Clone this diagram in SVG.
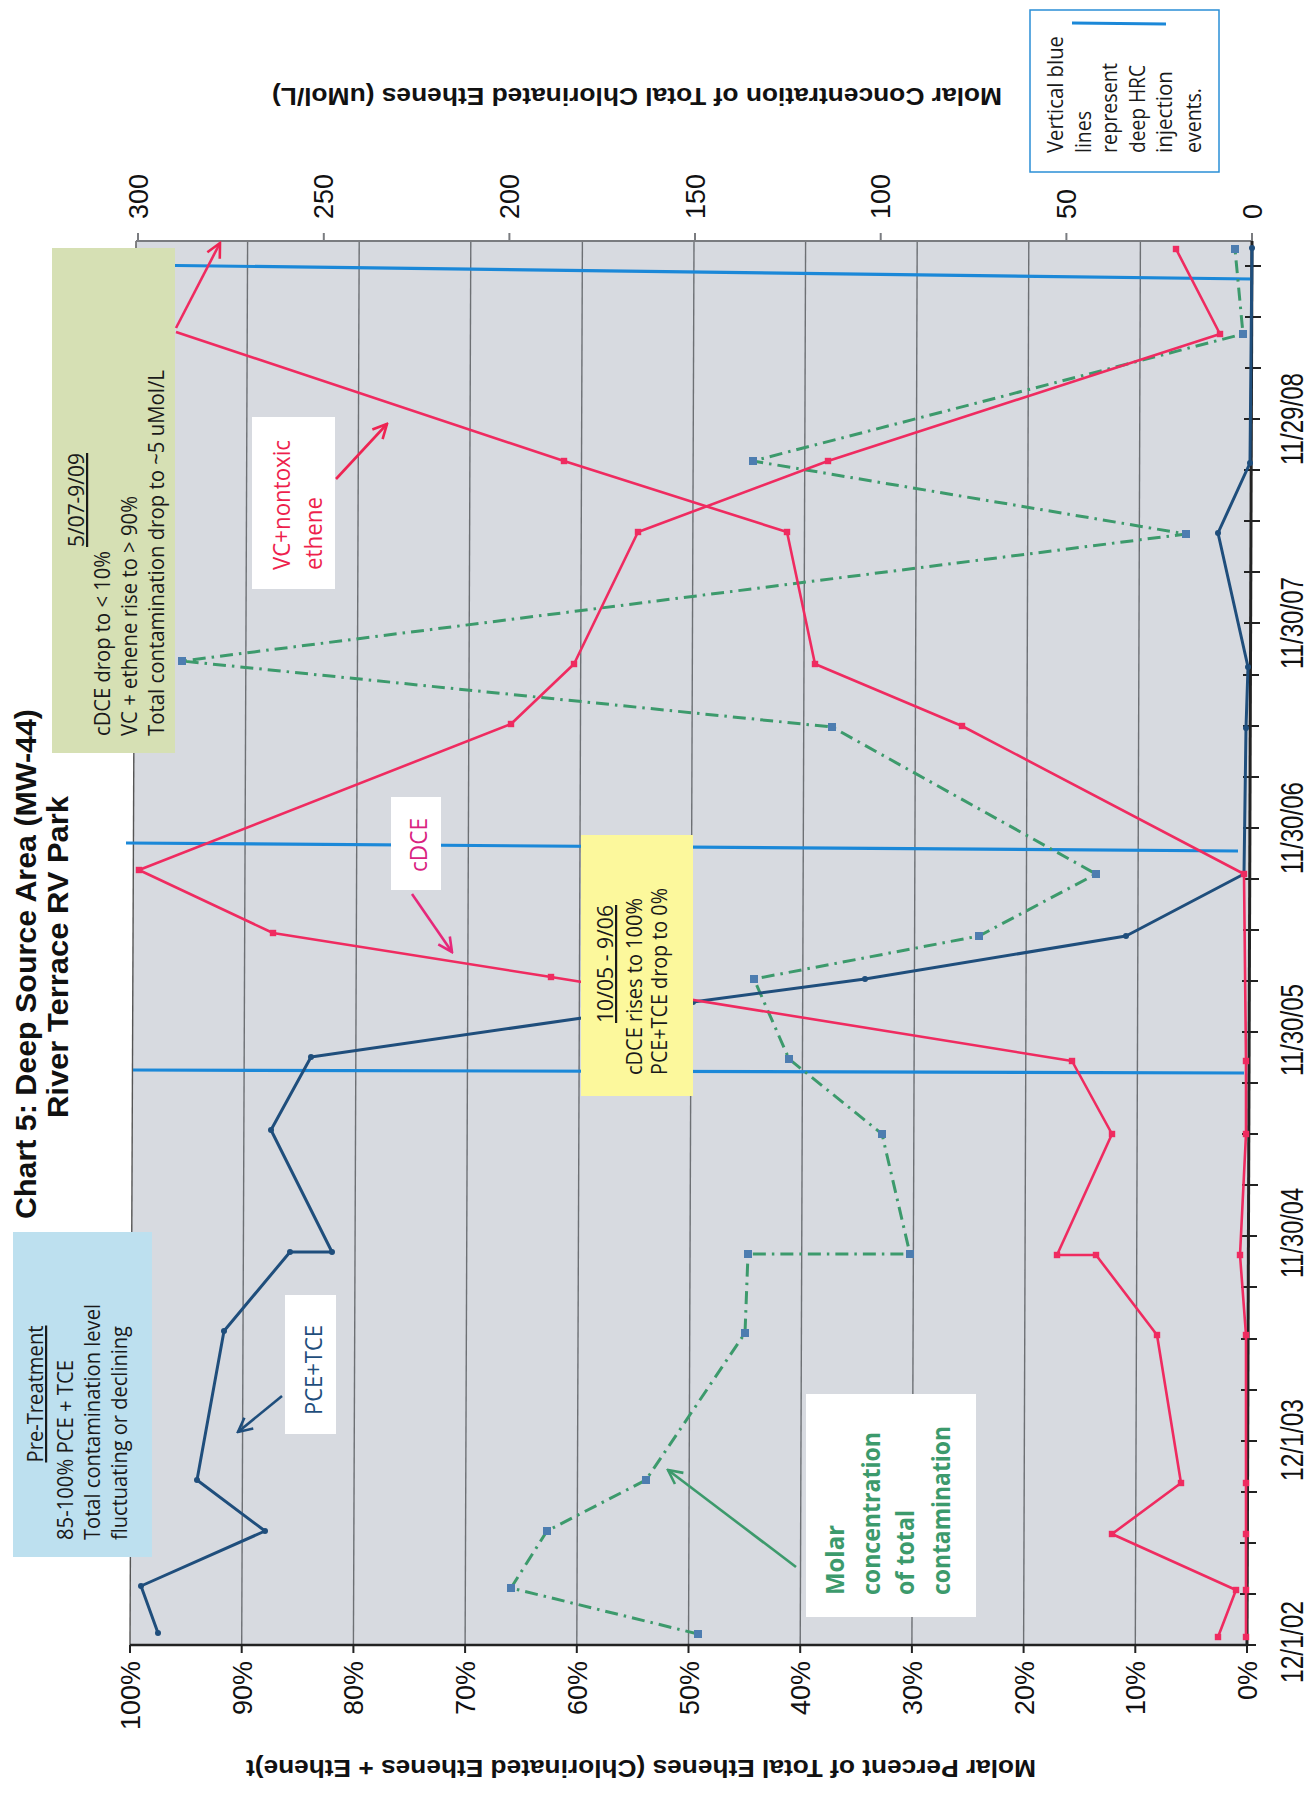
<svg xmlns="http://www.w3.org/2000/svg" width="1315" height="1796" viewBox="0 0 1315 1796">
<defs>
<style>
.ax{font-family:"Liberation Sans",Arial,sans-serif;fill:#111}
.num{font-size:27px}
.dt{font-size:32px}
.ttl{font-family:"Liberation Sans",Arial,sans-serif;font-weight:bold;fill:#111}
.cal{font-family:"Open Sans","Noto Sans",sans-serif;font-size:22px;fill:#1a1a1a}
.lab{font-family:"Open Sans","Noto Sans",sans-serif;font-size:24px}
.grid{stroke:#6d7074;stroke-width:1.4;fill:none}
.inj{stroke:#1b88d8;stroke-width:3.2;fill:none}
.pce{stroke:#1f4e7c;stroke-width:3;fill:none;stroke-linejoin:round}
.pink{stroke:#ef2b60;stroke-width:2.6;fill:none;stroke-linejoin:round}
.grn{stroke:#3c9a6c;stroke-width:3;fill:none;stroke-dasharray:13 6 2.5 6}
.arr{fill:none;stroke-width:2.6}
</style>
<marker id="mb" viewBox="-4 -4 8 8" markerWidth="8" markerHeight="8" markerUnits="userSpaceOnUse"><circle r="3" fill="#1f4e7c"/></marker>
<marker id="mp" viewBox="-4 -4 8 8" markerWidth="8" markerHeight="8" markerUnits="userSpaceOnUse"><rect x="-3.2" y="-3.2" width="6.4" height="6.4" fill="#ef2b60"/></marker>
<marker id="mg" viewBox="-5 -5 10 10" markerWidth="10" markerHeight="10" markerUnits="userSpaceOnUse"><rect x="-4" y="-4" width="8" height="8" fill="#4d7db0"/></marker>
<marker id="ab" viewBox="-16 -9 18 18" markerWidth="18" markerHeight="18" markerUnits="userSpaceOnUse" orient="auto"><path d="M-14,-7 L0,0 L-14,7" fill="none" stroke="#1f4e7c" stroke-width="2.6"/></marker>
<marker id="am" viewBox="-16 -9 18 18" markerWidth="18" markerHeight="18" markerUnits="userSpaceOnUse" orient="auto"><path d="M-14,-7 L0,0 L-14,7" fill="none" stroke="#e6287a" stroke-width="2.6"/></marker>
<marker id="ar" viewBox="-16 -9 18 18" markerWidth="18" markerHeight="18" markerUnits="userSpaceOnUse" orient="auto"><path d="M-14,-7 L0,0 L-14,7" fill="none" stroke="#ee2452" stroke-width="2.6"/></marker>
<marker id="ag" viewBox="-16 -9 18 18" markerWidth="18" markerHeight="18" markerUnits="userSpaceOnUse" orient="auto"><path d="M-14,-7 L0,0 L-14,7" fill="none" stroke="#3c9a6c" stroke-width="2.6"/></marker>
</defs>
<rect width="1315" height="1796" fill="#ffffff"/>

<g id="plot">
<polygon points="136,241 1252,241 1247,1645 130,1645" fill="#d7dae0"/>
<g class="grid">
<line x1="1140.4" y1="241" x2="1135.3" y2="1645"/>
<line x1="1028.8" y1="241" x2="1023.6" y2="1645"/>
<line x1="917.2" y1="241" x2="911.9" y2="1645"/>
<line x1="805.6" y1="241" x2="800.2" y2="1645"/>
<line x1="694" y1="241" x2="688.5" y2="1645"/>
<line x1="582.4" y1="241" x2="576.8" y2="1645"/>
<line x1="470.8" y1="241" x2="465.1" y2="1645"/>
<line x1="359.2" y1="241" x2="353.4" y2="1645"/>
<line x1="247.6" y1="241" x2="241.7" y2="1645"/>
<line x1="136" y1="241" x2="130" y2="1645" stroke="#555"/>
</g>
<line x1="136" y1="241" x2="1252" y2="241" stroke="#7a7c80" stroke-width="2.2"/>
<path d="M138,233v8 M323.8,233v8 M509.4,233v8 M695,233v8 M880.7,233v8 M1066.4,233v8 M1252,233v8" stroke="#7a7c80" stroke-width="2"/>
<line x1="130" y1="1645" x2="1248" y2="1645" stroke="#222" stroke-width="2.6"/>
<path d="M130,1645v8 M241.7,1645v8 M353.4,1645v8 M465.1,1645v8 M576.8,1645v8 M688.5,1645v8 M800.2,1645v8 M911.9,1645v8 M1023.6,1645v8 M1135.3,1645v8 M1247,1645v8" stroke="#222" stroke-width="2"/>
<line x1="1252" y1="241" x2="1247" y2="1646" stroke="#222" stroke-width="3"/>
<path d="M1240,1645h16 M1240,1594h16 M1240,1543h16 M1241,1492h16 M1241,1441h16 M1241,1390h16 M1241,1339h16 M1241,1287h16 M1241,1236h16 M1242,1185h16 M1242,1134h16 M1242,1083h16 M1242,1032h16 M1242,981h16 M1243,930h16 M1243,879h16 M1243,828h16 M1243,777h16 M1243,726h16 M1243,675h16 M1244,623h16 M1244,572h16 M1244,521h16 M1244,470h16 M1244,419h16 M1245,368h16 M1245,317h16 M1245,266h16" stroke="#222" stroke-width="2"/>
</g>

<g id="axis-labels" class="ax">
<g class="num" text-anchor="end">
<text x="140" y="1661" transform="rotate(-90 140 1661)">100%</text>
<text x="251.7" y="1661" transform="rotate(-90 251.7 1661)">90%</text>
<text x="363.4" y="1661" transform="rotate(-90 363.4 1661)">80%</text>
<text x="475.1" y="1661" transform="rotate(-90 475.1 1661)">70%</text>
<text x="586.8" y="1661" transform="rotate(-90 586.8 1661)">60%</text>
<text x="698.5" y="1661" transform="rotate(-90 698.5 1661)">50%</text>
<text x="810.2" y="1661" transform="rotate(-90 810.2 1661)">40%</text>
<text x="921.9" y="1661" transform="rotate(-90 921.9 1661)">30%</text>
<text x="1033.6" y="1661" transform="rotate(-90 1033.6 1661)">20%</text>
<text x="1145.3" y="1661" transform="rotate(-90 1145.3 1661)">10%</text>
<text x="1257" y="1661" transform="rotate(-90 1257 1661)">0%</text>
</g>
<g class="num" text-anchor="start">
<text x="147.5" y="219" transform="rotate(-90 147.5 219)">300</text>
<text x="333.3" y="219" transform="rotate(-90 333.3 219)">250</text>
<text x="518.9" y="219" transform="rotate(-90 518.9 219)">200</text>
<text x="704.5" y="219" transform="rotate(-90 704.5 219)">150</text>
<text x="890.2" y="219" transform="rotate(-90 890.2 219)">100</text>
<text x="1075.9" y="219" transform="rotate(-90 1075.9 219)">50</text>
<text x="1261.5" y="219" transform="rotate(-90 1261.5 219)">0</text>
</g>
<g class="dt" text-anchor="middle">
<text x="1303" y="1642" transform="rotate(-90 1303 1642)" textLength="82" lengthAdjust="spacingAndGlyphs">12/1/02</text>
<text x="1303" y="1440" transform="rotate(-90 1303 1440)" textLength="82" lengthAdjust="spacingAndGlyphs">12/1/03</text>
<text x="1303" y="1233" transform="rotate(-90 1303 1233)" textLength="90" lengthAdjust="spacingAndGlyphs">11/30/04</text>
<text x="1303" y="1030" transform="rotate(-90 1303 1030)" textLength="92" lengthAdjust="spacingAndGlyphs">11/30/05</text>
<text x="1303" y="828" transform="rotate(-90 1303 828)" textLength="92" lengthAdjust="spacingAndGlyphs">11/30/06</text>
<text x="1303" y="623" transform="rotate(-90 1303 623)" textLength="92" lengthAdjust="spacingAndGlyphs">11/30/07</text>
<text x="1303" y="419" transform="rotate(-90 1303 419)" textLength="92" lengthAdjust="spacingAndGlyphs">11/29/08</text>
</g>
<text class="ttl" x="637" y="104" font-size="23" text-anchor="middle" textLength="730" lengthAdjust="spacingAndGlyphs" transform="rotate(180 637 96)">Molar Concentration of Total Chlorinated Ethenes (uMol/L)</text>
<text class="ttl" x="641" y="1776" font-size="23" text-anchor="middle" textLength="790" lengthAdjust="spacingAndGlyphs" transform="rotate(180 641 1768)">Molar Percent of Total Ethenes (Chlorinated Ethenes + Ethene)t</text>
</g>

<g id="title" class="ttl" font-size="30" text-anchor="middle">
<text x="36" y="964" transform="rotate(-90 36 964)" textLength="510" lengthAdjust="spacingAndGlyphs">Chart 5: Deep Source Area (MW-44)</text>
<text x="68" y="957" transform="rotate(-90 68 957)" textLength="322" lengthAdjust="spacingAndGlyphs">River Terrace RV Park</text>
</g>

<g id="injections">
<line class="inj" x1="137" y1="265" x2="1252" y2="279"/>
<line class="inj" x1="126" y1="843" x2="1238" y2="851"/>
<line class="inj" x1="133" y1="1070" x2="1244" y2="1073"/>
</g>

<g id="series">
<polyline id="total-molar" class="grn" marker-start="url(#mg)" marker-mid="url(#mg)" marker-end="url(#mg)" points="698,1634 511,1588 547,1531 646,1480 745,1333 748,1254 910,1254 882,1134 789,1059 754,979 979,936 1096,874 832,727 182,661 1186,534 753,461 1243,334 1235,249"/>
<polyline id="pce-tce" class="pce" marker-start="url(#mb)" marker-mid="url(#mb)" marker-end="url(#mb)" points="158,1633 141,1586 265,1531 197,1480 224,1331 290,1252 332,1252 271,1130 311,1057 693,1002 865,979 1126,936 1244,874 1246,728 1248,667 1218,533 1250,463 1252,248"/>
<polyline id="cdce" class="pink" marker-start="url(#mp)" marker-mid="url(#mp)" marker-end="url(#mp)" points="1218,1637 1236,1590 1112,1534 1181,1483 1157,1335 1096,1255 1057,1255 1112,1134 1072,1061 551,977 273,933 139,870 511,724 574,664 638,532 828,461 1220,334 1176,249"/>
<polyline id="vc" class="pink" marker-start="url(#mp)" marker-mid="url(#mp)" points="1246,1637 1246,1590 1246,1534 1246,1483 1246,1335 1240,1255 1246,1134 1246,1061 1244,874 962,726 815,664 787,532 564,461 176,332"/>
</g>

<g id="pre-treatment">
<rect x="13" y="1232" width="139" height="325" fill="#bde0ef"/>
<g class="cal">
<text x="43" y="1394" text-anchor="middle" text-decoration="underline" transform="rotate(-90 43 1394)" textLength="137" lengthAdjust="spacingAndGlyphs">Pre-Treatment</text>
<text x="73" y="1540" transform="rotate(-90 73 1540)" textLength="180" lengthAdjust="spacingAndGlyphs">85-100% PCE + TCE</text>
<text x="100" y="1540" transform="rotate(-90 100 1540)" textLength="236" lengthAdjust="spacingAndGlyphs">Total contamination level</text>
<text x="127" y="1540" transform="rotate(-90 127 1540)" textLength="214" lengthAdjust="spacingAndGlyphs">fluctuating or declining</text>
</g>
</g>

<g id="phase-3">
<rect x="52" y="248" width="123" height="505" fill="#d6e0b4"/>
<g class="cal">
<text x="84" y="500" text-anchor="middle" text-decoration="underline" transform="rotate(-90 84 500)" textLength="94" lengthAdjust="spacingAndGlyphs">5/07-9/09</text>
<text x="110" y="736" transform="rotate(-90 110 736)" textLength="185" lengthAdjust="spacingAndGlyphs">cDCE drop to &lt; 10%</text>
<text x="137" y="736" transform="rotate(-90 137 736)" textLength="240" lengthAdjust="spacingAndGlyphs">VC + ethene rise to &gt; 90%</text>
<text x="164" y="736" transform="rotate(-90 164 736)" textLength="366" lengthAdjust="spacingAndGlyphs">Total contamination drop to ~5 uMol/L</text>
</g>
</g>

<g id="phase-2">
<rect x="581" y="835" width="112" height="261" fill="#fcf89c"/>
<g class="cal">
<text x="613" y="964" text-anchor="middle" text-decoration="underline" transform="rotate(-90 613 964)" textLength="118" lengthAdjust="spacingAndGlyphs">10/05 - 9/06</text>
<text x="642" y="1075" transform="rotate(-90 642 1075)" textLength="177" lengthAdjust="spacingAndGlyphs">cDCE rises to 100%</text>
<text x="667" y="1075" transform="rotate(-90 667 1075)" textLength="187" lengthAdjust="spacingAndGlyphs">PCE+TCE drop to 0%</text>
</g>
</g>

<g id="legend">
<rect x="1030" y="10" width="189" height="162" fill="#ffffff" stroke="#2a8fd6" stroke-width="1.5"/>
<line x1="1072" y1="23" x2="1166" y2="24" stroke="#1b88d8" stroke-width="3"/>
<g class="cal">
<text x="1063" y="153" transform="rotate(-90 1063 153)" textLength="117" lengthAdjust="spacingAndGlyphs">Vertical blue</text>
<text x="1091" y="153" transform="rotate(-90 1091 153)" textLength="42" lengthAdjust="spacingAndGlyphs">lines</text>
<text x="1117" y="153" transform="rotate(-90 1117 153)" textLength="90" lengthAdjust="spacingAndGlyphs">represent</text>
<text x="1145" y="153" transform="rotate(-90 1145 153)" textLength="88" lengthAdjust="spacingAndGlyphs">deep HRC</text>
<text x="1172" y="153" transform="rotate(-90 1172 153)" textLength="82" lengthAdjust="spacingAndGlyphs">injection</text>
<text x="1201" y="153" transform="rotate(-90 1201 153)" textLength="65" lengthAdjust="spacingAndGlyphs">events.</text>
</g>
</g>

<g id="label-pce">
<rect x="285" y="1295" width="51" height="139" fill="#ffffff"/>
<text class="lab" x="322" y="1370" fill="#1f4e7c" text-anchor="middle" transform="rotate(-90 322 1370)" textLength="90" lengthAdjust="spacingAndGlyphs">PCE+TCE</text>
</g>
<g id="label-cdce">
<rect x="391" y="797" width="50" height="93" fill="#ffffff"/>
<text class="lab" x="427" y="845" fill="#d9227f" text-anchor="middle" transform="rotate(-90 427 845)" textLength="54" lengthAdjust="spacingAndGlyphs">cDCE</text>
</g>
<g id="label-vc">
<rect x="252" y="417" width="83" height="172" fill="#ffffff"/>
<text class="lab" x="290" y="570" fill="#ee1f4d" transform="rotate(-90 290 570)" textLength="130" lengthAdjust="spacingAndGlyphs">VC+nontoxic</text>
<text class="lab" x="322" y="570" fill="#ee1f4d" transform="rotate(-90 322 570)" textLength="73" lengthAdjust="spacingAndGlyphs">ethene</text>
</g>
<g id="label-molar">
<rect x="806" y="1394" width="170" height="223" fill="#ffffff"/>
<g font-family="'Open Sans','Noto Sans',sans-serif" font-size="25" font-weight="bold" fill="#3c9a6c">
<text x="844" y="1595" transform="rotate(-90 844 1595)" textLength="70" lengthAdjust="spacingAndGlyphs">Molar</text>
<text x="880" y="1595" transform="rotate(-90 880 1595)" textLength="163" lengthAdjust="spacingAndGlyphs">concentration</text>
<text x="914" y="1595" transform="rotate(-90 914 1595)" textLength="85" lengthAdjust="spacingAndGlyphs">of total</text>
<text x="950" y="1595" transform="rotate(-90 950 1595)" textLength="169" lengthAdjust="spacingAndGlyphs">contamination</text>
</g>
</g>

<g id="connectors" class="arr">
<line x1="282" y1="1396" x2="238" y2="1432" stroke="#1f4e7c" marker-end="url(#ab)"/>
<line x1="412" y1="894" x2="452" y2="952" stroke="#e6287a" marker-end="url(#am)"/>
<line x1="336" y1="479" x2="387" y2="424" stroke="#ee2452" marker-end="url(#ar)"/>
<line x1="796" y1="1567" x2="668" y2="1470" stroke="#3c9a6c" marker-end="url(#ag)"/>
<line x1="176" y1="328" x2="220" y2="243" stroke="#ef2b60" marker-end="url(#ar)"/>
</g>
</svg>
